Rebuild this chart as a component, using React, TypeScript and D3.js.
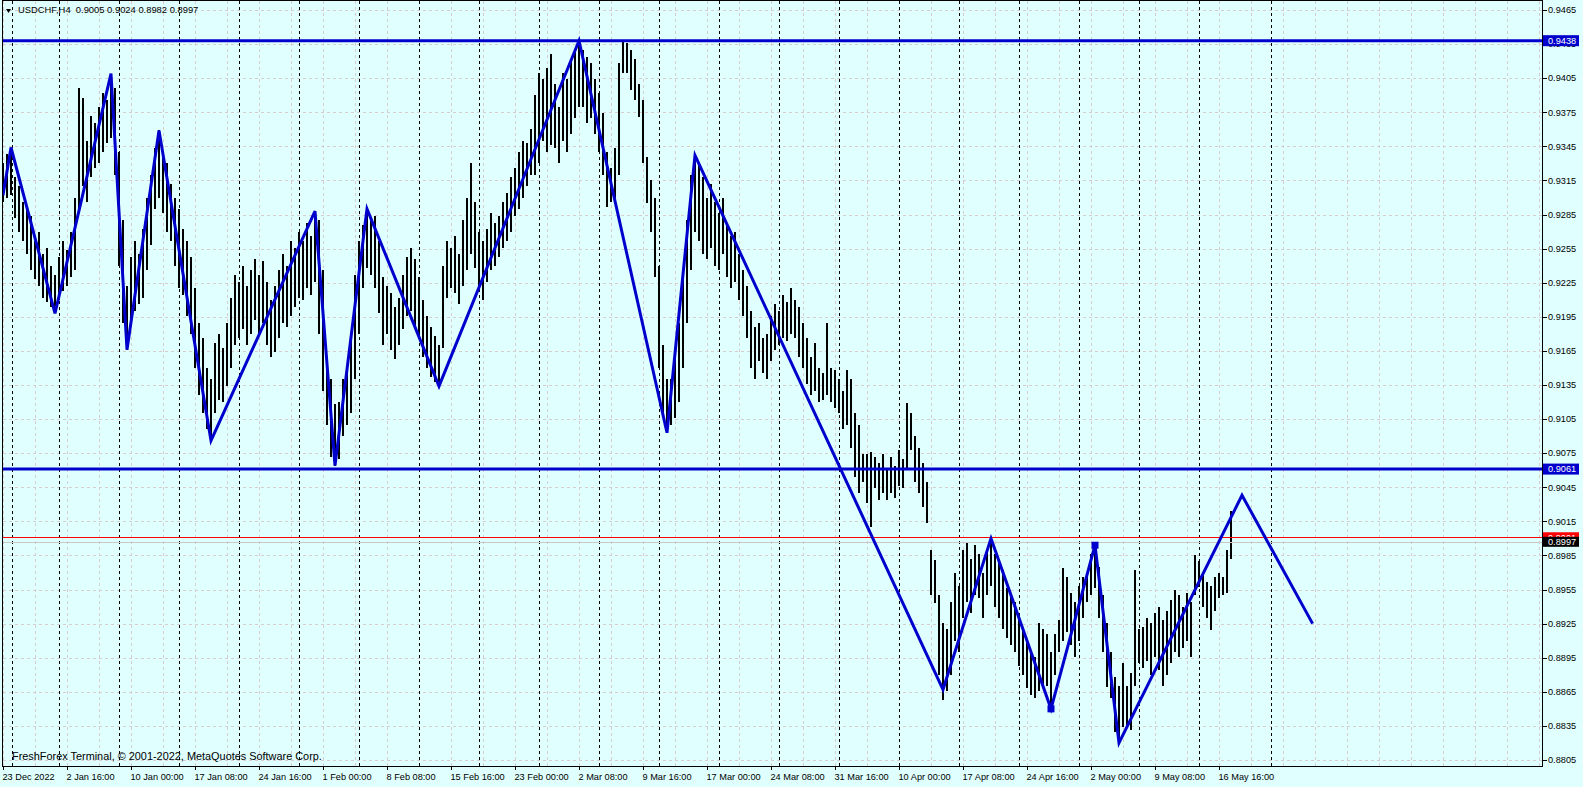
import React, { useEffect } from 'react';
import * as d3 from 'd3';

const W = 1583;
const H = 787;

// price axis tick labels
const PRICE_TICKS = [
  0.9465, 0.9435, 0.9405, 0.9375, 0.9345, 0.9315, 0.9285, 0.9255, 0.9225, 0.9195, 0.9165, 0.9135,
  0.9105, 0.9075, 0.9045, 0.9015, 0.8985, 0.8955, 0.8925, 0.8895, 0.8865, 0.8835, 0.8805,
];

// time axis labels (one every 16 bars)
const TIME_LABELS = [
  '23 Dec 2022', '2 Jan 16:00', '10 Jan 00:00', '17 Jan 08:00', '24 Jan 16:00', '1 Feb 00:00',
  '8 Feb 08:00', '15 Feb 16:00', '23 Feb 00:00', '2 Mar 08:00', '9 Mar 16:00', '17 Mar 00:00',
  '24 Mar 08:00', '31 Mar 16:00', '10 Apr 00:00', '17 Apr 08:00', '24 Apr 16:00', '2 May 00:00',
  '9 May 08:00', '16 May 16:00',
];
const LABEL_EVERY = 16;
const GRID_EVERY = 8;
const GRID_COUNT = 49;

// weekly period separators (bar index positions)
const SEPARATORS = [
  2.25, 14, 29, 44, 59, 74, 89, 104, 119, 134, 149, 164, 179, 194, 209, 224, 239, 254, 269, 284, 299, 317,
];

// bar highs / lows in pips (x 0.0001)
const HIGHS = [
  9330, 9338, 9344, 9318, 9310, 9296, 9290, 9284, 9262, 9270,
  9250, 9256, 9240, 9232, 9248, 9262, 9254, 9270, 9300, 9396,
  9388, 9350, 9372, 9366, 9380, 9392, 9386, 9409, 9396, 9340,
  9280, 9222, 9248, 9262, 9250, 9272, 9300, 9320, 9344, 9359,
  9340, 9330, 9312, 9300, 9290, 9272, 9262, 9248, 9220, 9190,
  9176, 9150, 9140, 9172, 9180, 9168, 9190, 9212, 9232, 9226,
  9240, 9222, 9236, 9246, 9232, 9244, 9226, 9210, 9222, 9236,
  9250, 9240, 9262, 9256, 9270, 9262, 9278, 9266, 9288, 9280,
  9236, 9150, 9140, 9118, 9120, 9140, 9150, 9180, 9232, 9262,
  9276, 9290, 9280, 9284, 9262, 9230, 9222, 9216, 9204, 9212,
  9232, 9248, 9256, 9246, 9230, 9210, 9196, 9186, 9178, 9170,
  9240, 9262, 9256, 9266, 9250, 9280, 9300, 9330, 9296, 9270,
  9262, 9272, 9286, 9278, 9284, 9296, 9304, 9318, 9326, 9340,
  9350, 9348, 9360, 9390, 9410, 9404, 9414, 9426, 9400, 9380,
  9410, 9404, 9420, 9430, 9438, 9430, 9424, 9418, 9404, 9392,
  9374, 9340, 9326, 9344, 9418, 9437, 9436, 9430, 9422, 9400,
  9386, 9336, 9315, 9300, 9240, 9170, 9140, 9140, 9160, 9190,
  9230, 9280, 9320, 9337, 9330, 9318, 9300, 9312, 9296, 9286,
  9300, 9276, 9266, 9270, 9250, 9236, 9222, 9200, 9186, 9190,
  9176, 9180, 9196, 9206, 9200, 9214, 9208, 9220, 9210, 9204,
  9190, 9176, 9160, 9172, 9150, 9146, 9190, 9150, 9148, 9140,
  9130, 9148, 9140, 9110, 9100, 9074, 9074, 9076, 9072, 9066,
  9074, 9060, 9072, 9064, 9078, 9070, 9119, 9110, 9090, 9080,
  9066, 9050, 8990, 8981, 8950, 8926, 8920, 8944, 8970, 8958,
  8990, 8996, 8982, 8994, 8986, 8970, 8990, 9000, 8986, 8978,
  8972, 8956, 8950, 8944, 8928, 8920, 8908, 8900, 8896, 8926,
  8920, 8916, 8900, 8916, 8928, 8974, 8966, 8952, 8944, 8958,
  8966, 8970, 8986, 8994, 8975, 8950, 8926, 8900, 8878, 8870,
  8890, 8870, 8882, 8972, 8920, 8922, 8930, 8926, 8934, 8940,
  8928, 8936, 8946, 8955, 8950, 8940, 8952, 8944, 8985, 8980,
  8970, 8962, 8958, 8966, 8970, 8966, 8990, 9024,
];
const LOWS = [
  9296, 9300, 9302, 9282, 9270, 9262, 9250, 9236, 9228, 9222,
  9212, 9208, 9204, 9198, 9210, 9218, 9222, 9230, 9236, 9290,
  9310, 9296, 9318, 9326, 9330, 9340, 9348, 9352, 9320, 9240,
  9190, 9166, 9188, 9200, 9206, 9212, 9236, 9258, 9290, 9300,
  9286, 9270, 9262, 9240, 9220, 9214, 9196, 9180, 9150, 9126,
  9110, 9096, 9086, 9110, 9122, 9120, 9134, 9150, 9170, 9176,
  9184, 9170, 9180, 9192, 9178, 9190, 9170, 9160, 9164, 9176,
  9190, 9186, 9196, 9204, 9212, 9210, 9220, 9214, 9226, 9180,
  9130, 9100, 9072, 9064, 9070, 9090, 9100, 9110, 9140, 9180,
  9220, 9238, 9232, 9220, 9198, 9170, 9180, 9166, 9158, 9170,
  9184, 9196, 9200, 9188, 9176, 9160, 9150, 9142, 9138, 9134,
  9168, 9212, 9220, 9216, 9206, 9222, 9236, 9250, 9238, 9220,
  9210, 9226, 9236, 9240, 9248, 9256, 9262, 9270, 9284, 9290,
  9300, 9310, 9320, 9320, 9330, 9350, 9340, 9346, 9344, 9330,
  9350, 9340, 9356, 9370, 9380, 9380, 9366, 9370, 9356, 9340,
  9320, 9292, 9296, 9300, 9320, 9410, 9410, 9395, 9386, 9371,
  9330, 9295, 9270, 9230, 9150, 9110, 9093, 9100, 9106, 9120,
  9150, 9190, 9236, 9270, 9262, 9250, 9246, 9256, 9240, 9236,
  9250, 9230, 9220, 9226, 9210, 9196, 9176, 9150, 9140, 9156,
  9146, 9140, 9156, 9166, 9170, 9176, 9174, 9180, 9176, 9160,
  9150, 9136, 9126, 9130, 9120, 9122, 9126, 9120, 9115, 9110,
  9096, 9100, 9080, 9054, 9040, 9050, 9031, 9010, 9044, 9034,
  9040, 9034, 9040, 9036, 9046, 9044, 9060, 9078, 9050, 9040,
  9028, 9014, 8950, 8943, 8880, 8858, 8866, 8880, 8910, 8900,
  8930, 8944, 8934, 8950, 8948, 8930, 8950, 8958, 8940, 8930,
  8920, 8912, 8906, 8900, 8888, 8880, 8868, 8862, 8860, 8866,
  8872, 8870, 8850, 8880, 8900, 8910, 8918, 8906, 8896, 8910,
  8930, 8944, 8950, 8956, 8930, 8900, 8869, 8860, 8830, 8820,
  8834, 8836, 8831, 8870, 8890, 8886, 8892, 8880, 8896, 8884,
  8870, 8880, 8890, 8900, 8896, 8904, 8910, 8896, 8950, 8957,
  8940, 8930, 8919, 8936, 8948, 8950, 8952, 8982,
];

// zigzag vertices (bar index, price in pips)
const ZZ_INDEX = [0, 2, 13, 27, 31, 39, 52, 78, 83, 91, 109, 144, 166, 173, 235, 247, 262, 273, 279, 309.75, 327.4];
const ZZ_PRICE = [9302, 9344, 9198, 9409, 9166, 9359, 9086, 9288, 9064, 9290, 9134, 9438, 9093, 9337, 8867, 9000, 8850, 8994, 8820, 9038, 8925];
const ZZ_MARKS = [262, 267.5, 273];

const LEVELS = [0.9438, 0.9061];
const BID = 0.8997;
const ASK = 0.9001;
const SYMBOL = 'USDCHF,H4';
const LAST_OHLC = ['0.9005', '0.9024', '0.8982', '0.8997'];

const FONT = "'Liberation Sans', Arial, sans-serif";
const BG = '#E0FFFF';
const BLUE = '#0000CD';
const GRID = '#D8CDCD';

const PL = 2.5;
const PR = 1542.5;
const PT = 0.5;
const PB = 766.5;

export default function App() {
  useEffect(() => {
    document.body.style.margin = '0';
    document.body.style.background = BG;
  }, []);

  const x = d3.scaleLinear().domain([0, HIGHS.length - 1]).range([3, 3 + 4 * (HIGHS.length - 1)]);
  const y = d3.scaleLinear().domain([0.8805, 0.9465]).range([760, 10]);
  const p = (v: number) => v / 10000;

  const zz = d3
    .line<number>()
    .x((_, i) => x(ZZ_INDEX[i]))
    .y((d) => y(p(d)));

  const interp = (idx: number) => {
    for (let k = 0; k < ZZ_INDEX.length - 1; k++) {
      if (idx >= ZZ_INDEX[k] && idx <= ZZ_INDEX[k + 1]) {
        const t = (idx - ZZ_INDEX[k]) / (ZZ_INDEX[k + 1] - ZZ_INDEX[k]);
        return ZZ_PRICE[k] + t * (ZZ_PRICE[k + 1] - ZZ_PRICE[k]);
      }
    }
    return ZZ_PRICE[0];
  };

  const gridIdx = d3.range(GRID_COUNT).map((k) => k * GRID_EVERY);

  return (
    <svg
      width={W}
      height={H}
      style={{ position: 'absolute', left: 0, top: 0, display: 'block' }}
      fontFamily={FONT}
    >
      <rect x={0} y={0} width={W} height={H} fill={BG} />
      <defs>
        <clipPath id="plot">
          <rect x={PL} y={PT} width={PR - PL} height={PB - PT} />
        </clipPath>
      </defs>

      <g clipPath="url(#plot)">
        {PRICE_TICKS.map((t) => (
          <line
            key={'hg' + t}
            x1={PL}
            x2={PR}
            y1={Math.round(y(t)) + 0.5}
            y2={Math.round(y(t)) + 0.5}
            stroke={GRID}
            strokeDasharray="3,3"
            shapeRendering="crispEdges"
          />
        ))}
        {gridIdx.map((gi) => (
          <line
            key={'vg' + gi}
            x1={Math.round(x(gi)) + 0.5}
            x2={Math.round(x(gi)) + 0.5}
            y1={PT}
            y2={PB}
            stroke={GRID}
            strokeDasharray="3,3"
            shapeRendering="crispEdges"
          />
        ))}
        {SEPARATORS.map((s) => (
          <line
            key={'sep' + s}
            x1={Math.round(x(s)) + 0.5}
            x2={Math.round(x(s)) + 0.5}
            y1={PT}
            y2={PB}
            stroke="#000"
            strokeDasharray="3,3"
            shapeRendering="crispEdges"
          />
        ))}

        {HIGHS.map((h, i) => (
          <rect
            key={'b' + i}
            x={x(i) - 1}
            y={y(p(h))}
            width={2}
            height={Math.max(1, y(p(LOWS[i])) - y(p(h)))}
            fill="#000"
            shapeRendering="crispEdges"
          />
        ))}

        <line x1={PL} x2={PR} y1={Math.round(y(BID)) + 0.5} y2={Math.round(y(BID)) + 0.5} stroke="#C8C8C8" shapeRendering="crispEdges" />
        <line x1={PL} x2={PR} y1={Math.round(y(ASK)) + 0.5} y2={Math.round(y(ASK)) + 0.5} stroke="#FF0000" shapeRendering="crispEdges" />

        {LEVELS.map((l) => (
          <line key={'lv' + l} x1={PL} x2={PR} y1={y(l)} y2={y(l)} stroke={BLUE} strokeWidth={3} />
        ))}

        <path d={zz(ZZ_PRICE) || ''} fill="none" stroke={BLUE} strokeWidth={3} strokeLinejoin="miter" />
        {ZZ_MARKS.map((m, k) => {
          const s = k === 1 ? 5 : 7;
          return (
            <rect
              key={'mk' + m}
              x={x(m) - s / 2}
              y={y(p(interp(m))) - s / 2}
              width={s}
              height={s}
              fill={BLUE}
            />
          );
        })}
      </g>

      <rect x={PL} y={PT} width={PR - PL} height={PB - PT} fill="none" stroke="#000" shapeRendering="crispEdges" />

      {PRICE_TICKS.map((t) => (
        <g key={'pt' + t}>
          <line x1={PR} x2={PR + 4} y1={Math.round(y(t)) + 0.5} y2={Math.round(y(t)) + 0.5} stroke="#000" shapeRendering="crispEdges" />
          <text x={1548} y={y(t) + 3.3} fontSize={9.2} fill="#000">
            {t.toFixed(4)}
          </text>
        </g>
      ))}
      {LEVELS.map((l) => (
        <g key={'lb' + l}>
          <rect x={1543} y={y(l) - 5.5} width={36} height={11} fill={BLUE} />
          <text x={1548} y={y(l) + 3.3} fontSize={9.2} fill="#fff">
            {l.toFixed(4)}
          </text>
        </g>
      ))}
      <rect x={1543} y={y(ASK) - 5} width={36} height={10} fill="#FF0000" />
      <text x={1548} y={y(ASK) + 3.3} fontSize={9.2} fill="#fff">
        {ASK.toFixed(4)}
      </text>
      <rect x={1543} y={y(BID) - 5} width={36} height={10} fill="#000" />
      <text x={1548} y={y(BID) + 3.3} fontSize={9.2} fill="#fff">
        {BID.toFixed(4)}
      </text>

      {TIME_LABELS.map((t, m) => (
        <g key={'tl' + t}>
          <line
            x1={Math.round(x(m * LABEL_EVERY)) + 0.5}
            x2={Math.round(x(m * LABEL_EVERY)) + 0.5}
            y1={PB}
            y2={PB + 3}
            stroke="#000"
            shapeRendering="crispEdges"
          />
          <text x={x(m * LABEL_EVERY) - 0.5} y={780} fontSize={9.2} fill="#000">
            {t}
          </text>
        </g>
      ))}

      <path d="M6,9 L11,9 L8.5,13 Z" fill="#000" />
      <text x={18} y={13.3} fontSize={9.4} fill="#000" style={{ whiteSpace: 'pre' }}>
        {SYMBOL + '  ' + LAST_OHLC.join(' ')}
      </text>

      <text x={12} y={760} fontSize={10.9} fill="#000">
        FreshForex Terminal, © 2001-2022, MetaQuotes Software Corp.
      </text>
    </svg>
  );
}
